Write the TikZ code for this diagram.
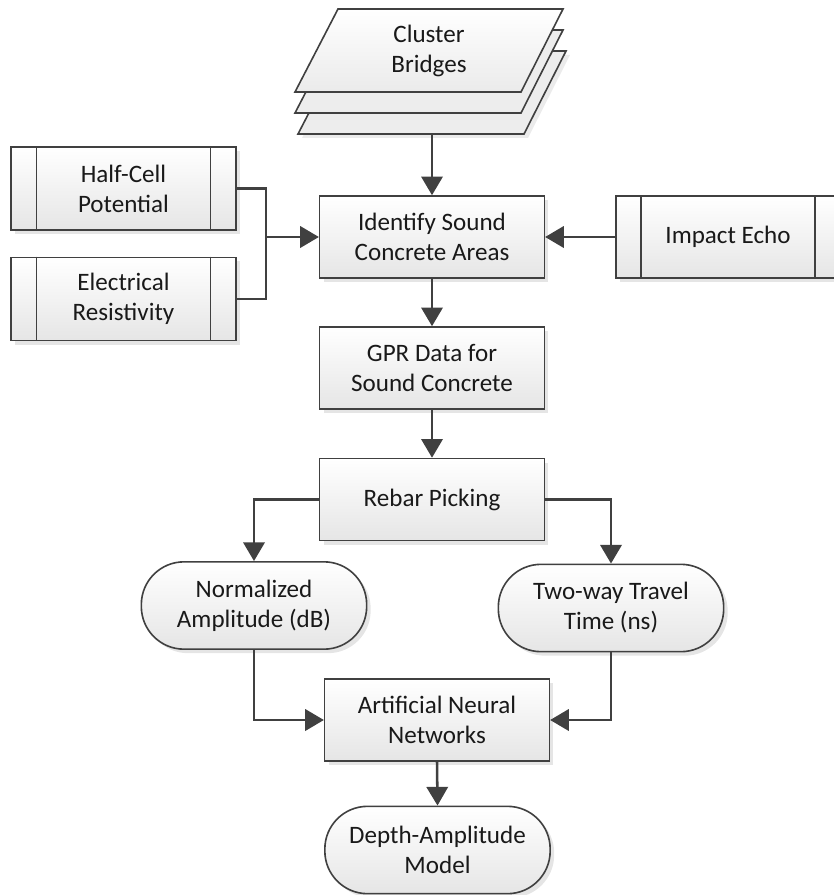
\documentclass[tikz,border=0pt]{standalone}
\usepackage{fontspec}
\setmainfont{Carlito}
\usetikzlibrary{arrows.meta,shadows}
\definecolor{ln}{HTML}{404040}
\tikzset{
  txt/.style={align=center, font=\fontsize{18.8}{22.5}\selectfont, inner sep=0pt, text=black!90},
  base/.style={txt, draw=ln, line width=1.2pt, top color=white, bottom color=black!10,
    drop shadow={shadow xshift=3pt, shadow yshift=-3pt, fill=black, opacity=0.10}},
  procbox/.style={base, rectangle, minimum width=168.5pt, minimum height=61.5pt},
  termbox/.style={base, rectangle, rounded corners=32pt, minimum width=169pt, minimum height=65.5pt},
  predef/.style={base, rectangle, minimum width=168.5pt, minimum height=62.5pt},
  inner/.style={draw=ln, line width=1.2pt},
  line/.style={draw=ln, line width=1.9pt},
  arr/.style={line, -{Triangle[width=16pt,length=14pt]}},
  layer/.style={draw=ln, line width=1.2pt, fill=black!7},
}
\begin{document}
\begin{tikzpicture}[x=0.75pt,y=-0.75pt]
\clip (0,0) rectangle (834,895);
\fill[white] (0,0) rectangle (834,895);
% Cluster Bridges stack
\fill[black, opacity=0.08] (345,55) -- (570,55) -- (528,138) -- (302,138) -- cycle;
\path[layer] (341,51) -- (566,51) -- (524,134) -- (298,134) -- cycle;
\path[layer] (338,30) -- (563,30) -- (521,113) -- (295,113) -- cycle;
\path[draw=ln, line width=1.2pt, top color=white, bottom color=black!8] (338,9) -- (563,9) -- (521,92) -- (295,92) -- cycle;
\node[txt] (cb) at (429,51) {Cluster\\Bridges};
\coordinate (cbbot) at (432,134);
% main column
\node[procbox] (id) at (432,237) {Identify Sound\\Concrete Areas};
\node[procbox] (gpr) at (432,368) {GPR Data for\\Sound Concrete};
\node[procbox] (rb) at (432,499.5) {Rebar Picking};
\node[procbox] (ann) at (437,720) {Artificial Neural\\Networks};
\node[termbox] (dam) at (437.5,850) {Depth-Amplitude\\Model};
\node[termbox] (na) at (254,605.5) {Normalized\\Amplitude (dB)};
\node[termbox] (tw) at (611,608) {Two-way Travel\\Time (ns)};
% predefined process boxes
\node[predef] (hc) at (123.5,188.5) {Half-Cell\\Potential};
\node[predef] (er) at (123.5,299) {Electrical\\Resistivity};
\node[predef, minimum width=168pt, minimum height=61.5pt] (ie) at (728,237) {Impact Echo};
\foreach \n in {hc,er,ie}{
  \draw[inner] ([xshift=19.5pt]\n.north west) -- ([xshift=19.5pt]\n.south west);
  \draw[inner] ([xshift=-19.5pt]\n.north east) -- ([xshift=-19.5pt]\n.south east);
}
% connectors
\coordinate (jn) at (266,237);
\draw[arr] (cbbot) -- (id.north);
\draw[line] (hc.east) -| (jn) |- (er.east);
\draw[arr] (jn) -- (id.west);
\draw[arr] (ie.west) -- (id.east);
\draw[arr] (id.south) -- (gpr.north);
\draw[arr] (gpr.south) -- (rb.north);
\draw[arr] (rb.west) -| (na.north);
\draw[arr] (rb.east) -| (tw.north);
\draw[arr] (na.south) |- (ann.west);
\draw[arr] (tw.south) |- (ann.east);
\draw[arr] (ann.south) -- (dam.north);
\end{tikzpicture}
\end{document}
